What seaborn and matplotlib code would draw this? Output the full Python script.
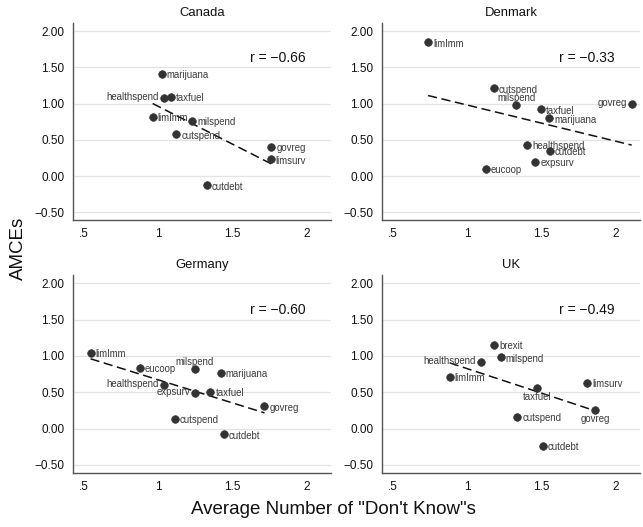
import numpy as np
import pandas as pd
import matplotlib
matplotlib.use("Agg")
import matplotlib.pyplot as plt
import seaborn as sns

sns.set_style("white")
plt.rcParams['font.family'] = ['Liberation Sans', 'DejaVu Sans']

# ---- data ----
countries = ["Canada", "Denmark", "Germany", "UK"]
r_values = ["r = \u22120.66", "r = \u22120.33", "r = \u22120.60", "r = \u22120.49"]

canada_labels = ["marijuana", "healthspend", "taxfuel", "limImm", "milspend",
                 "cutspend", "govreg", "limsurv", "cutdebt"]
canada_dk = [1.024, 1.04, 1.088, 0.964, 1.231, 1.124, 1.761, 1.755, 1.329]
canada_amce = [1.41, 1.08, 1.09, 0.82, 0.764, 0.575, 0.405, 0.231, -0.128]

denmark_labels = ["limImm", "cutspend", "milspend", "taxfuel", "marijuana",
                  "govreg", "healthspend", "cutdebt", "expsurv", "eucoop"]
denmark_dk = [0.739, 1.180, 1.329, 1.493, 1.550, 2.104, 1.404, 1.557, 1.459, 1.125]
denmark_amce = [1.848, 1.21, 0.98, 0.92, 0.796, 1.00, 0.433, 0.35, 0.194, 0.102]

germany_labels = ["limImm", "eucoop", "milspend", "marijuana", "healthspend",
                  "expsurv", "taxfuel", "govreg", "cutspend", "cutdebt"]
germany_dk = [0.548, 0.880, 1.248, 1.421, 1.041, 1.248, 1.351, 1.714, 1.111, 1.443]
germany_amce = [1.046, 0.839, 0.817, 0.771, 0.60, 0.491, 0.509, 0.307, 0.138, -0.078]

uk_labels = ["brexit", "milspend", "healthspend", "limImm", "taxfuel",
             "limsurv", "govreg", "cutspend", "cutdebt"]
uk_dk = [1.182, 1.227, 1.091, 0.884, 1.469, 1.807, 1.860, 1.338, 1.507]
uk_amce = [1.151, 0.982, 0.922, 0.716, 0.564, 0.633, 0.257, 0.165, -0.234]

x_ticks = [0.5, 1, 1.5, 2]
x_ticklabels = [".5", "1", "1.5", "2"]
y_ticks = [-0.5, 0, 0.5, 1.0, 1.5, 2.0]
y_ticklabels = ["\u22120.50", "0.00", "0.50", "1.00", "1.50", "2.00"]

frames = []
for c, lab, dk, am in [("Canada", canada_labels, canada_dk, canada_amce),
                       ("Denmark", denmark_labels, denmark_dk, denmark_amce),
                       ("Germany", germany_labels, germany_dk, germany_amce),
                       ("UK", uk_labels, uk_dk, uk_amce)]:
    frames.append(pd.DataFrame({"country": c, "label": lab, "dk": dk, "amce": am}))
df = pd.concat(frames, ignore_index=True)

# label placement (style): l = left, t = top, b = bottom, default right
placement = {
    ("Canada", "healthspend"): "l",
    ("Denmark", "milspend"): "t",
    ("Denmark", "govreg"): "l",
    ("Germany", "milspend"): "t",
    ("Germany", "healthspend"): "l",
    ("Germany", "expsurv"): "l",
    ("UK", "healthspend"): "l",
    ("UK", "taxfuel"): "b",
    ("UK", "govreg"): "b",
}

W, H = 643, 527
fig = plt.figure(figsize=(W / 100, H / 100), dpi=100)

panel_px = {  # left, top, right, bottom in pixels
    "Canada": (73, 23, 331, 220),
    "Denmark": (382, 23, 640, 220),
    "Germany": (73, 275, 331, 472.7),
    "UK": (382, 275, 640, 472.7),
}

mark_col = "#333333"
text_col = "#3a3a3a"

for c, rtxt in zip(countries, r_values):
    l, t, r, b = panel_px[c]
    ax = fig.add_axes([l / W, 1 - b / H, (r - l) / W, (b - t) / H])
    sub = df[df.country == c]
    ax.set_xlim(0.43, 2.16)
    ax.set_ylim(-0.606, 2.112)
    ax.set_yticks(y_ticks)
    ax.set_yticklabels(y_ticklabels, fontsize=8.5)
    ax.set_xticks(x_ticks)
    ax.set_xticklabels(x_ticklabels, fontsize=8.5)
    ax.grid(axis="y", color="#e3e3e3", linewidth=0.9)
    ax.set_axisbelow(True)
    for s in ["top", "right"]:
        ax.spines[s].set_visible(False)
    for s in ["left", "bottom"]:
        ax.spines[s].set_color("#555555")
        ax.spines[s].set_linewidth(1.0)
    ax.tick_params(axis="both", direction="out", length=4, width=0.8,
                   color="#555555", pad=2, labelcolor="#111111")

    sns.regplot(data=sub, x="dk", y="amce", ax=ax, scatter=False, ci=None,
                truncate=True,
                line_kws=dict(color="#111111", linestyle=(0, (6, 3)), linewidth=1.1))
    sns.scatterplot(data=sub, x="dk", y="amce", ax=ax, color=mark_col,
                    s=30, edgecolor=mark_col, linewidth=0.5, zorder=3)
    ax.set_xlabel("")
    ax.set_ylabel("")

    for _, row in sub.iterrows():
        p = placement.get((c, row["label"]), "r")
        if p == "r":
            off, ha = (3.6, -1.0), "left"
        elif p == "l":
            off, ha = (-3.6, 0.5), "right"
        elif p == "t":
            off, ha = (0, 5.3), "center"
        else:
            off, ha = (0, -6.7), "center"
        ax.annotate(row["label"], (row["dk"], row["amce"]), xytext=off,
                    textcoords="offset points", ha=ha, va="center",
                    fontsize=6.9, color=text_col, zorder=4)

    ax.text(1.62, 1.63, rtxt, fontsize=10, color="#111111", ha="left", va="center")
    ax.set_title(c, fontsize=9.4, color="#111111", pad=5)

fig.text(18 / W, 1 - 248 / H, "AMCEs", rotation=90, ha="center", va="center",
         fontsize=13.5, color="#111111")
fig.text(333 / W, 1 - 509 / H, "Average Number of \"Don't Know\"s", ha="center",
         va="center", fontsize=13.5, color="#111111")

fig.savefig("out.png", dpi=100)
